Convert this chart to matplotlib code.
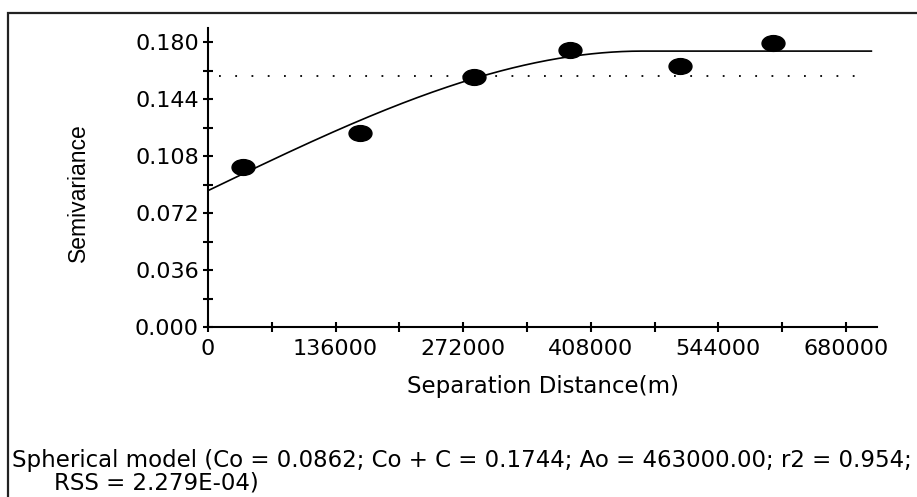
import numpy as np
import matplotlib
matplotlib.use("Agg")
import matplotlib.pyplot as plt
from matplotlib.path import Path
from matplotlib.transforms import Affine2D
from matplotlib.patches import Rectangle

# semivariogram points
lag_dist = [37200, 162000, 283500, 385700, 503000, 602400]
semivar = [0.1012, 0.1228, 0.1580, 0.1750, 0.1649, 0.1795]

# spherical model parameters (from the caption)
c0 = 0.0862
sill = 0.1744
a0 = 463000.0
sample_var = 0.1587

y_ticks = [0.000, 0.036, 0.072, 0.108, 0.144, 0.180]
x_ticks = [0, 136000, 272000, 408000, 544000, 680000]

caption1 = "Spherical model (Co = 0.0862; Co + C = 0.1744; Ao = 463000.00; r2 = 0.954;"
caption2 = "RSS = 2.279E-04)"

plt.rcParams['font.family'] = ['DejaVu Sans']

fig = plt.figure(figsize=(9.17, 4.97), dpi=100)
ax = fig.add_axes([208/917, 1-327/497, 669/917, 299/497])

h = np.linspace(0, 707000, 400)
hr = np.minimum(h / a0, 1.0)
gamma = c0 + (sill - c0) * (1.5*hr - 0.5*hr**3)
ax.plot(h, gamma, color='black', lw=1.2)

ax.hlines(sample_var, 12000, 690000, colors='black', lw=1.3,
          linestyles=(0, (1, 8)))

ell = Path.unit_circle().transformed(Affine2D().scale(1.45, 1.0))
ax.plot(lag_dist, semivar, linestyle='none', marker=ell, markersize=16.5,
        color='black', zorder=3)

ax.set_xlim(0, 713000)
ax.set_ylim(0, 0.189)
for s in ['top', 'right']:
    ax.spines[s].set_visible(False)
for s in ['left', 'bottom']:
    ax.spines[s].set_linewidth(1.5)

ax.set_yticks(y_ticks)
ax.set_yticklabels([f"{v:.3f}" for v in y_ticks])
ax.set_yticks([0.018, 0.054, 0.090, 0.126, 0.162], minor=True)
ax.set_xticks(x_ticks)
ax.set_xticklabels([str(v) for v in x_ticks])
ax.set_xticks([68000, 204000, 340000, 476000, 612000], minor=True)
ax.tick_params(which='both', direction='inout', length=7, width=1.5,
               labelsize=16, color='black')
ax.tick_params(axis='x', pad=5)
ax.tick_params(axis='y', pad=3)

ax.set_ylabel("Semivariance", fontsize=16.5, family='Liberation Sans')
ax.yaxis.set_label_coords(-0.176, 0.448)

fig.text(543/917, 1-386/497, "Separation Distance(m)", fontsize=16.5,
         ha='center', va='center')
fig.text(12/917, 1-461/497, caption1, fontsize=16.5, ha='left', va='center')
fig.text(54/917, 1-483/497, caption2, fontsize=16.5, ha='left', va='center')

fig.patches.append(Rectangle((8/917, -0.1), 1.0, 1.1 - 13/497,
                             transform=fig.transFigure, fill=False,
                             edgecolor='#222222', lw=1.6))

fig.savefig("out.png", dpi=100)
